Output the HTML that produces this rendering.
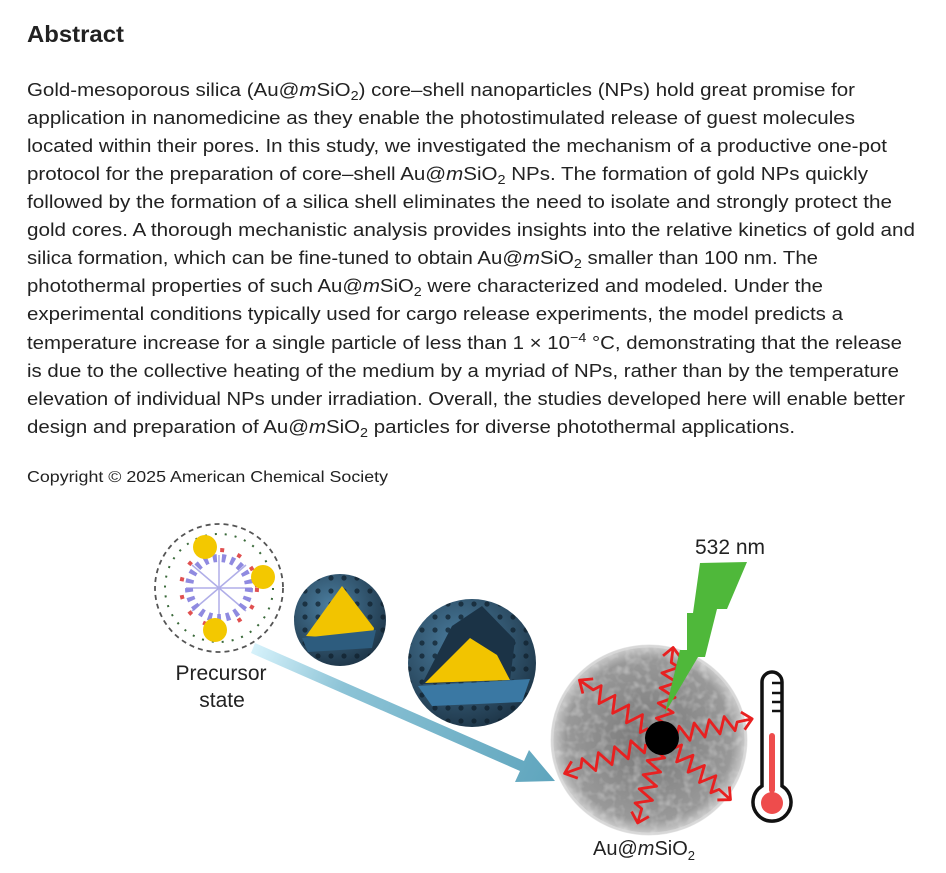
<!DOCTYPE html>
<html><head><meta charset="utf-8"><style>
html,body{margin:0;padding:0;background:#fff;}
svg{display:block;}
text{font-family:"Liberation Sans",Arial,sans-serif;fill:#222;}
</style></head><body>
<svg width="946" height="873" viewBox="0 0 946 873" xmlns="http://www.w3.org/2000/svg">
<text x="27" y="42" font-size="23" font-weight="bold" fill="#111" textLength="97" lengthAdjust="spacingAndGlyphs">Abstract</text>
<g font-size="18.5">
<text x="27" y="96" textLength="828" lengthAdjust="spacingAndGlyphs">Gold-mesoporous silica (Au@<tspan font-style="italic">m</tspan>SiO<tspan font-size="13" dy="4">2</tspan><tspan dy="-4">) core–shell nanoparticles (NPs) hold great promise for</tspan></text>
<text x="27" y="124" textLength="828" lengthAdjust="spacingAndGlyphs">application in nanomedicine as they enable the photostimulated release of guest molecules</text>
<text x="27" y="152" textLength="860" lengthAdjust="spacingAndGlyphs">located within their pores. In this study, we investigated the mechanism of a productive one-pot</text>
<text x="27" y="180" textLength="841" lengthAdjust="spacingAndGlyphs">protocol for the preparation of core–shell Au@<tspan font-style="italic">m</tspan>SiO<tspan font-size="13" dy="4">2</tspan><tspan dy="-4"> NPs. The formation of gold NPs quickly</tspan></text>
<text x="27" y="208" textLength="865" lengthAdjust="spacingAndGlyphs">followed by the formation of a silica shell eliminates the need to isolate and strongly protect the</text>
<text x="27" y="236" textLength="888" lengthAdjust="spacingAndGlyphs">gold cores. A thorough mechanistic analysis provides insights into the relative kinetics of gold and</text>
<text x="27" y="264" textLength="791" lengthAdjust="spacingAndGlyphs">silica formation, which can be fine-tuned to obtain Au@<tspan font-style="italic">m</tspan>SiO<tspan font-size="13" dy="4">2</tspan><tspan dy="-4"> smaller than 100 nm. The</tspan></text>
<text x="27" y="292" textLength="796" lengthAdjust="spacingAndGlyphs">photothermal properties of such Au@<tspan font-style="italic">m</tspan>SiO<tspan font-size="13" dy="4">2</tspan><tspan dy="-4"> were characterized and modeled. Under the</tspan></text>
<text x="27" y="320" textLength="816" lengthAdjust="spacingAndGlyphs">experimental conditions typically used for cargo release experiments, the model predicts a</text>
<text x="27" y="349" textLength="875" lengthAdjust="spacingAndGlyphs">temperature increase for a single particle of less than 1 × 10<tspan font-size="13" dy="-7">−4</tspan><tspan dy="7"> °C, demonstrating that the release</tspan></text>
<text x="27" y="377" textLength="872" lengthAdjust="spacingAndGlyphs">is due to the collective heating of the medium by a myriad of NPs, rather than by the temperature</text>
<text x="27" y="405" textLength="878" lengthAdjust="spacingAndGlyphs">elevation of individual NPs under irradiation. Overall, the studies developed here will enable better</text>
<text x="27" y="433" textLength="768" lengthAdjust="spacingAndGlyphs">design and preparation of Au@<tspan font-style="italic">m</tspan>SiO<tspan font-size="13" dy="4">2</tspan><tspan dy="-4"> particles for diverse photothermal applications.</tspan></text>
</g>
<text x="27" y="482" font-size="15.5" textLength="361" lengthAdjust="spacingAndGlyphs">Copyright © 2025 American Chemical Society</text>

<defs>
<linearGradient id="arr" x1="253" y1="648" x2="555" y2="781" gradientUnits="userSpaceOnUse"><stop offset="0" stop-color="#d6f2fb"/><stop offset="0.3" stop-color="#8cc3d6"/><stop offset="1" stop-color="#5fa5bd"/></linearGradient>
<radialGradient id="sph" cx="0.4" cy="0.35" r="0.7"><stop offset="0" stop-color="#4b7ea0"/><stop offset="1" stop-color="#1d3446"/></radialGradient>
<radialGradient id="gry" cx="0.5" cy="0.5" r="0.5"><stop offset="0" stop-color="#777"/><stop offset="0.85" stop-color="#999"/><stop offset="1" stop-color="#d0d0d0"/></radialGradient>
<pattern id="dots" width="13" height="13" patternUnits="userSpaceOnUse"><circle cx="6" cy="6" r="2.6" fill="#0e1e2a"/></pattern>
<filter id="noise" x="0" y="0" width="100%" height="100%">
<feTurbulence type="fractalNoise" baseFrequency="0.12" numOctaves="2" seed="3"/>
<feColorMatrix type="matrix" values="0 0 0 0 1  0 0 0 0 1  0 0 0 0 1  1.6 0 0 0 -0.7"/>
</filter>
<clipPath id="gc"><ellipse cx="649" cy="740" rx="98" ry="95"/></clipPath>
<path id="zz" d="M16,0 l4,-8 l8,16 l8,-16 l8,16 l8,-16 l8,16 l8,-16 l8,16 l4,-8 l16,0 M86,-9 L96,0 L86,9" fill="none" stroke="#e82020" stroke-width="2.8" stroke-linejoin="round" vector-effect="non-scaling-stroke"/>
</defs>
<polygon points="255,643 524,761 529,750 555,781 515,782 520,771 251,653" fill="url(#arr)"/>
<circle cx="219" cy="588" r="64" fill="#fff" stroke="#555" stroke-width="1.8" stroke-dasharray="5,4"/>
<g stroke="#b0aee8" stroke-width="1.5">
<line x1="192" y1="565" x2="246" y2="611"/><line x1="246" y1="565" x2="192" y2="611"/><line x1="219" y1="555" x2="219" y2="621"/><line x1="186" y1="588" x2="252" y2="588"/>
</g>
<circle cx="219" cy="588" r="30" fill="none" stroke="#8f8ae0" stroke-width="8" stroke-dasharray="4,5"/>
<circle cx="219" cy="588" r="38" fill="none" stroke="#e05050" stroke-width="4" stroke-dasharray="4,14"/>
<circle cx="219" cy="588" r="54" fill="none" stroke="#3a6a3a" stroke-width="2" stroke-dasharray="2,8"/>
<g fill="#f3c800"><circle cx="205" cy="547" r="12"/><circle cx="263" cy="577" r="12"/><circle cx="215" cy="630" r="12"/></g>
<text x="221" y="680" font-size="21" text-anchor="middle" fill="#333">Precursor</text>
<text x="222" y="707" font-size="21" text-anchor="middle" fill="#333">state</text>
<circle cx="340" cy="620" r="46" fill="url(#sph)"/>
<circle cx="340" cy="620" r="46" fill="url(#dots)" opacity="0.7"/>
<path d="M306,636 L342,586 L374,628 L372,640 Z" fill="#f2c400"/>
<path d="M302,638 L376,630 L372,648 L308,652 Z" fill="#2d5c7e"/>
<circle cx="472" cy="663" r="64" fill="url(#sph)"/>
<circle cx="472" cy="663" r="64" fill="url(#dots)" opacity="0.7"/>
<path d="M422,684 L452,626 L482,606 L515,640 L510,680Z" fill="#1b3346"/>
<path d="M425,683 L470,638 L497,655 L510,680Z" fill="#f2c400"/>
<path d="M418,686 L530,679 L522,702 L432,706Z" fill="#3a78a3"/>
<ellipse cx="649" cy="740" rx="98" ry="95" fill="url(#gry)"/>
<g clip-path="url(#gc)"><rect x="550" y="644" width="200" height="192" filter="url(#noise)" opacity="0.45"/></g>
<ellipse cx="649" cy="740" rx="97" ry="94" fill="none" stroke="#ddd" stroke-width="3" opacity="0.7"/>
<use href="#zz" transform="translate(662,738) rotate(-83) scale(0.95,1)"/>
<use href="#zz" transform="translate(662,738) rotate(215) scale(1.05,1)"/>
<use href="#zz" transform="translate(662,738) rotate(-12) scale(0.96,1)"/>
<use href="#zz" transform="translate(662,738) rotate(160) scale(1.08,1)"/>
<use href="#zz" transform="translate(662,738) rotate(106) scale(0.92,1)"/>
<use href="#zz" transform="translate(662,738) rotate(42) scale(0.96,1)"/>
<polygon points="700,563 747,562 727,609 717,609 705,657 698,657 665,713 680,650 687,650 687,613 693,613" fill="#4fb83a"/>
<circle cx="662" cy="738" r="17" fill="#000"/>
<text x="695" y="554" font-size="21" fill="#222">532 nm</text>
<path d="M762,682 a10,10 0 0 1 20,0 v104 a19,19 0 1 1 -20,0 z" fill="#fff" stroke="#111" stroke-width="3.5"/>
<g stroke="#111" stroke-width="2.5"><line x1="772" y1="683" x2="782" y2="683"/><line x1="772" y1="693" x2="782" y2="693"/><line x1="772" y1="702" x2="782" y2="702"/><line x1="772" y1="711" x2="782" y2="711"/></g>
<rect x="769" y="733" width="6" height="60" rx="3" fill="#ee4c4c"/>
<circle cx="772" cy="803" r="11" fill="#ee4c4c"/>
<text x="593" y="855" font-size="20" fill="#222">Au@<tspan font-style="italic">m</tspan>SiO<tspan font-size="13" dy="5">2</tspan></text>
</svg>
</body></html>
